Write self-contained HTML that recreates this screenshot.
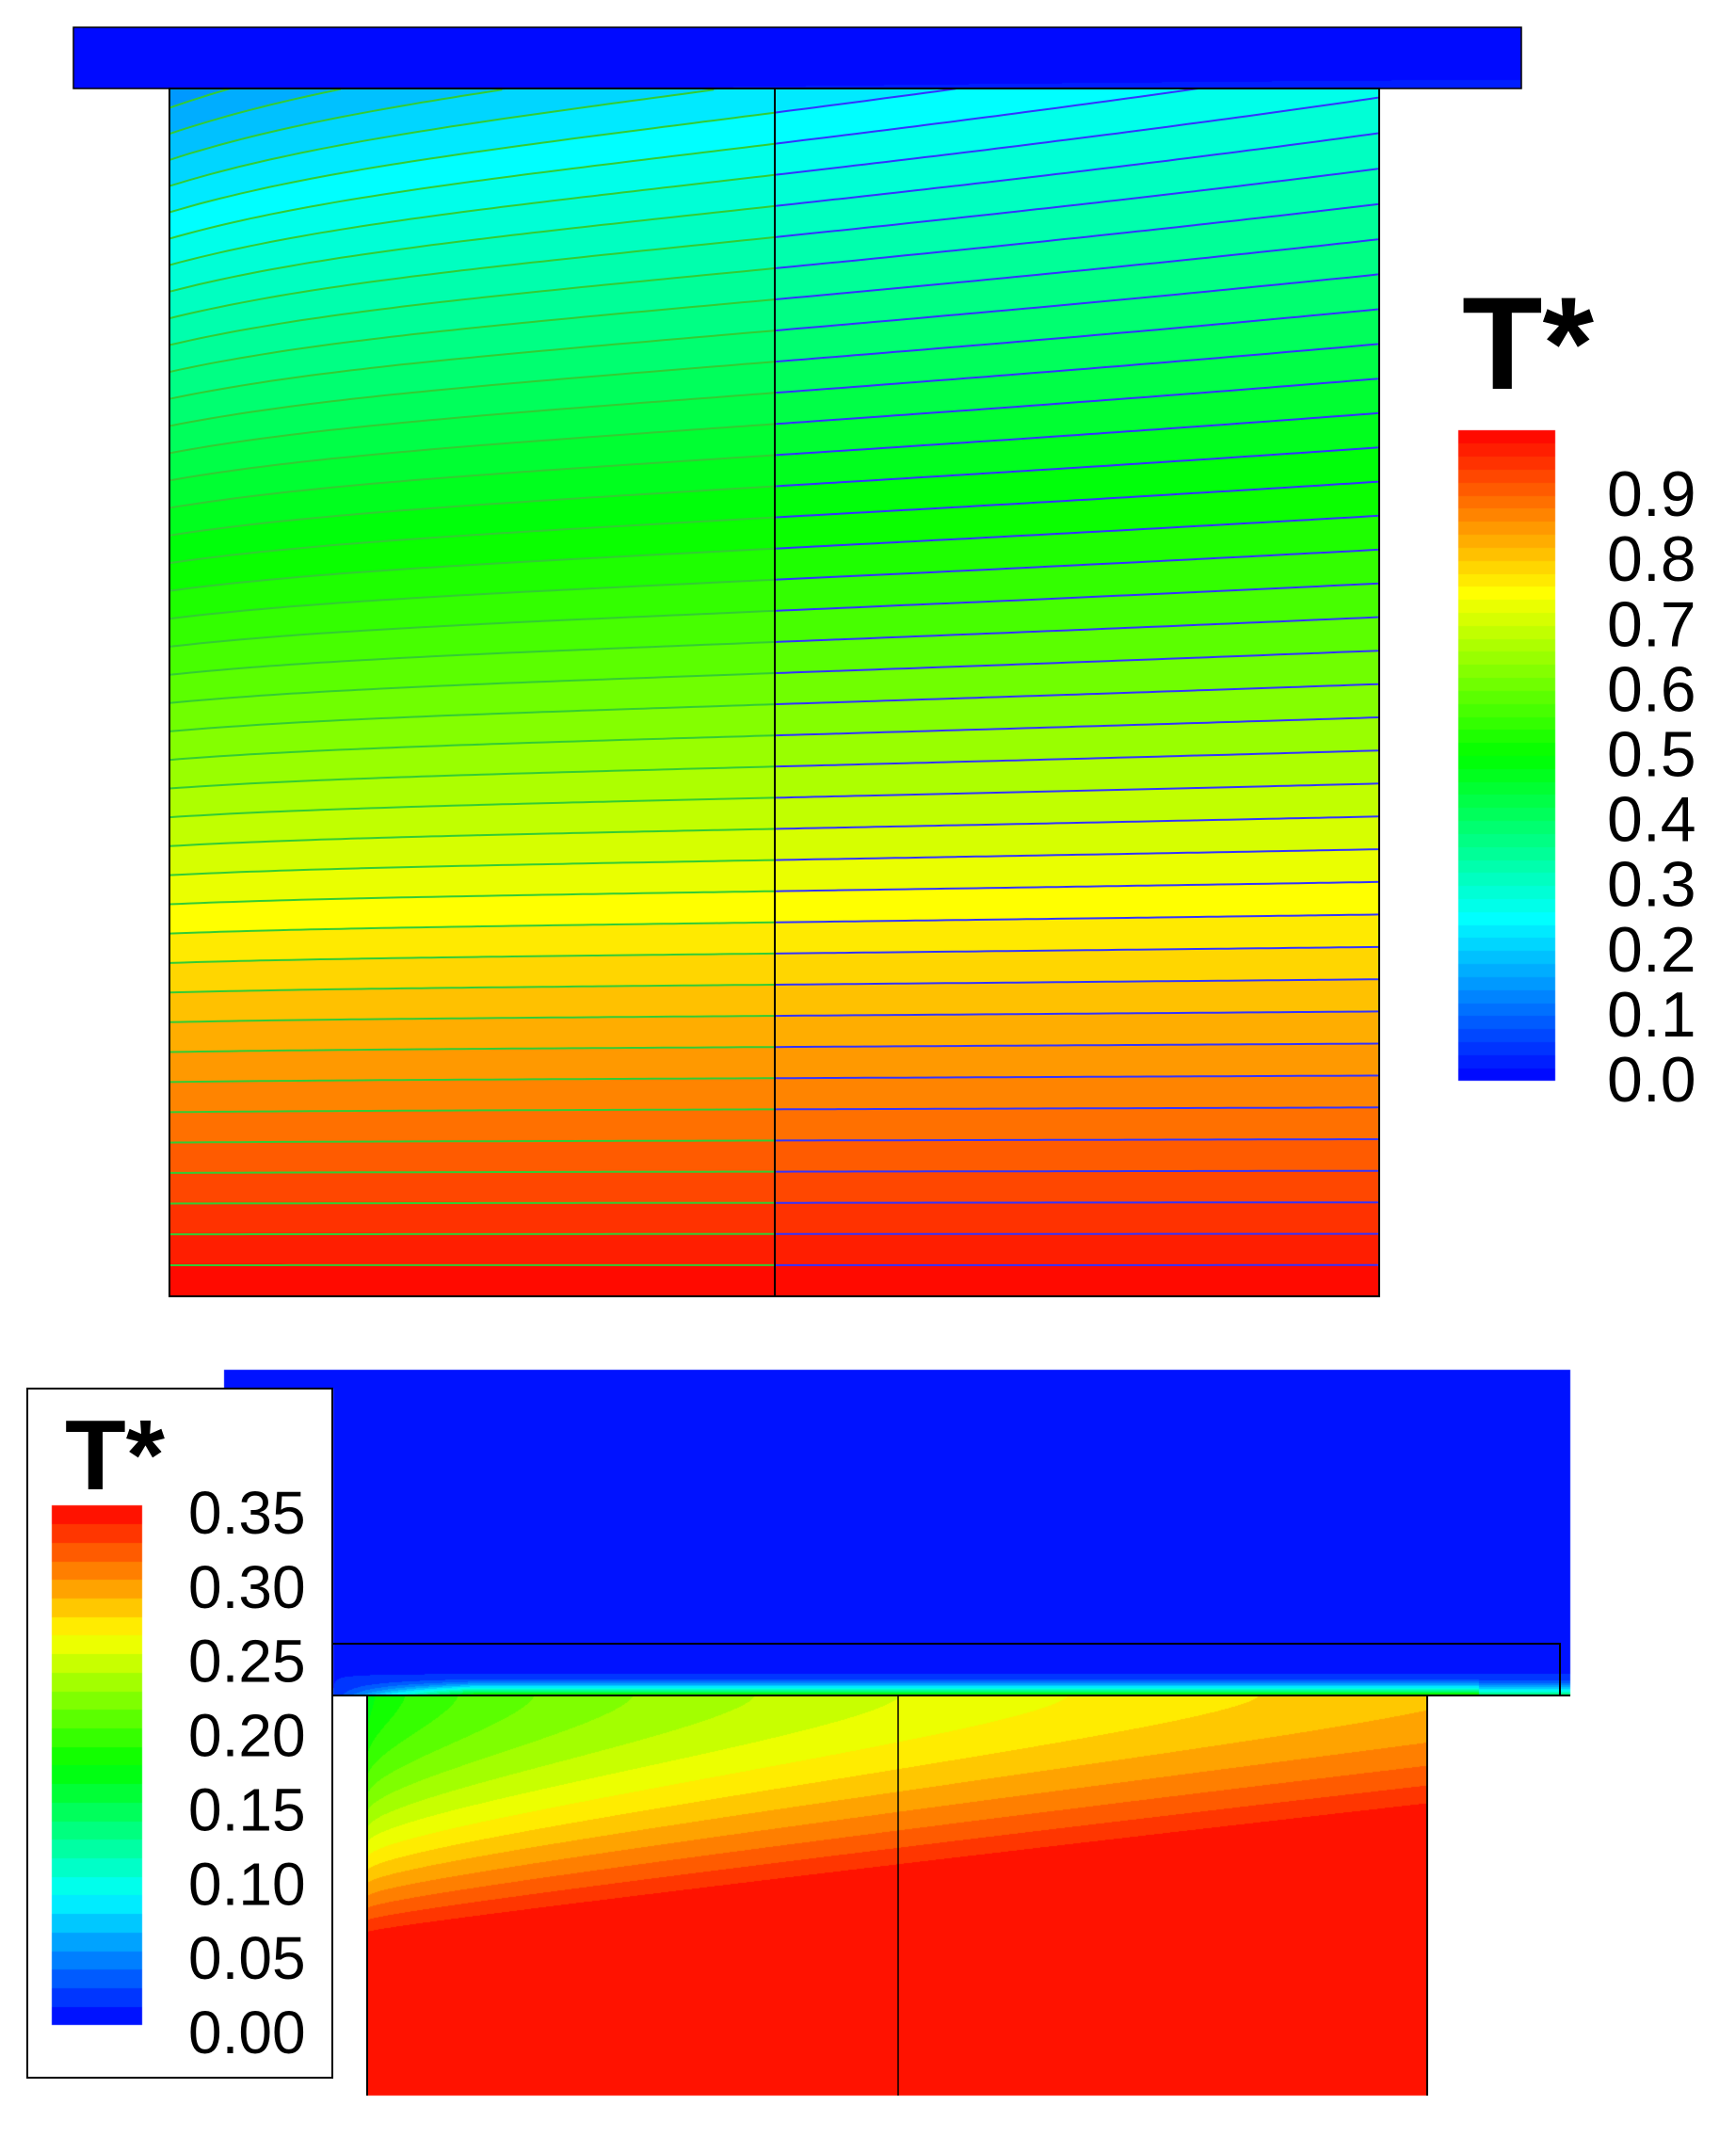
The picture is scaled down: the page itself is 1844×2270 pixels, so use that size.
<!DOCTYPE html>
<html><head><meta charset="utf-8"><style>
html,body{margin:0;padding:0;background:#fff;}
#wrap{position:relative;width:1844px;height:2270px;overflow:hidden;background:#fff;}
canvas,svg{position:absolute;left:0;top:0;}
</style></head><body>
<div id="wrap">
<canvas id="cv" width="1844" height="2270"></canvas>
<svg id="sv" width="1844" height="2270" font-family="Liberation Sans, Arial, sans-serif">
  <rect x="29" y="1475" width="324" height="732" fill="none" stroke="#000" stroke-width="2"/>
  <text x="1553" y="413" font-size="140" font-weight="bold">T*</text>
  <text x="69" y="1582" font-size="106" font-weight="bold">T*</text>
  <g id="topTicks"></g>
  <g id="botTicks"></g>
  <g id="contours"></g>
  <rect x="78" y="29" width="1538" height="65" fill="none" stroke="#000" stroke-width="1.5"/>
  <rect x="180" y="94" width="1285" height="1283" fill="none" stroke="#000" stroke-width="2"/>
  <line x1="823" y1="94" x2="823" y2="1377" stroke="#000" stroke-width="2"/>
  <rect x="353" y="1746" width="1304" height="55" fill="none" stroke="#000" stroke-width="2"/>
  <line x1="353" y1="1801" x2="1668" y2="1801" stroke="#000" stroke-width="2"/>
  <line x1="390" y1="1801" x2="390" y2="2226" stroke="#000" stroke-width="2"/>
  <line x1="1516" y1="1801" x2="1516" y2="2226" stroke="#000" stroke-width="2"/>
  <line x1="954" y1="1801" x2="954" y2="2226" stroke="#000" stroke-width="1.5"/>
</svg>
</div>
<script>
const topTickLabels = ["0.0","0.1","0.2","0.3","0.4","0.5","0.6","0.7","0.8","0.9"];
const topTickValues = [0,0.1,0.2,0.3,0.4,0.5,0.6,0.7,0.8,0.9];
const botTickLabels = ["0.00","0.05","0.10","0.15","0.20","0.25","0.30","0.35"];
const botTickValues = [0,0.05,0.10,0.15,0.20,0.25,0.30,0.35];
const contourLevels = [];
for (let i = 1; i < 50; i++) contourLevels.push(+(i*0.02).toFixed(2));

function cmap(t){
  t=Math.max(0,Math.min(1,t));
  let r,g,b;
  if(t<0.25){r=0;g=t/0.25*255;b=255;}
  else if(t<0.5){r=0;g=255;b=255*(1-(t-0.25)/0.25);}
  else if(t<0.75){r=255*(t-0.5)/0.25;g=255;b=0;}
  else {r=255;g=255*(1-(t-0.75)/0.25);b=0;}
  return [r|0,g|0,b|0];
}
const TX0=180,TX1=1465,TY0=94,TY1=1377;
function Ttop(xn,yn){
  const h=0.1*(xn-0.5)-0.03*Math.exp(-8*xn);
  return 0.225+0.775*yn+Math.pow(1-yn,2)*h;
}
const BX0=390,BX1=1516,BY0=1801,BY1=2226;
function Tbot(xn,yn){
  const top=0.165+0.12*Math.sqrt(xn);
  const d=0.64-0.3*xn;
  const f=Math.min(1,yn/d);
  return Math.min(0.35,top+(0.36-top)*Math.pow(f,1.5));
}
const cv=document.getElementById('cv');
const ctx=cv.getContext('2d');
const img=ctx.createImageData(1844,2270);
const D=img.data;
function put(x,y,c){const i=(y*1844+x)*4;D[i]=c[0];D[i+1]=c[1];D[i+2]=c[2];D[i+3]=255;}
function q(v,step){return (Math.floor(v/step)+0.5)*step;}
for(let i=0;i<D.length;i++)D[i]=255;
for(let y=29;y<94;y++)for(let x=78;x<1616;x++){
  const yn=(y-29)/65, xn=(x-78)/1538;
  let t=0.03*Math.pow(yn,4)*(0.3+xn);
  put(x,y,cmap(q(t,0.02)));
}
for(let y=TY0;y<TY1;y++)for(let x=TX0;x<TX1;x++){
  const t=Ttop((x-TX0)/(TX1-TX0),(y-TY0)/(TY1-TY0));
  put(x,y,cmap(q(t,0.02)));
}
for(let y=457;y<1148;y++)for(let x=1549;x<1652;x++){
  const t=(1148-y)/(1148-457);
  put(x,y,cmap(q(t,0.02)));
}
for(let y=1455;y<1801;y++)for(let x=238;x<1668;x++){
  if(x<=353 && y>=1475) continue; // covered by legend box (white)
  let t=0.012;
  if(y>1746 && x>=353){
    const f=Math.pow(Math.max(0,(y-1776)/25),2.2);
    const xf=Math.min(1,(x-353)/150);
    t=0.012+0.2*f*xf*(x>1570?0.7:1);
  }
  put(x,y,cmap(q(t,0.0125)/0.35));
}
for(let y=BY0;y<BY1;y++)for(let x=BX0;x<BX1;x++){
  const t=Tbot((x-BX0)/(BX1-BX0),(y-BY0)/(BY1-BY0));
  put(x,y,cmap(q(Math.min(t,0.3499),0.0125)/0.35));
}
for(let y=1599;y<2151;y++)for(let x=55;x<151;x++){
  const t=(2151-y)/(2151-1599)*0.35;
  put(x,y,cmap(q(Math.min(t,0.3499),0.0125)/0.35));
}
ctx.putImageData(img,0,0);

const NS='http://www.w3.org/2000/svg';
const tt=document.getElementById('topTicks');
topTickValues.forEach((v,i)=>{
  const t=document.createElementNS(NS,'text');
  
  
  t.setAttribute('x',1707);
  t.setAttribute('y',1148-v*(1148-457)+22);
  t.setAttribute('font-size','68');
  t.textContent=topTickLabels[i];
  tt.appendChild(t);
});
const bt=document.getElementById('botTicks');
botTickValues.forEach((v,i)=>{
  const t=document.createElementNS(NS,'text');
  
  
  t.setAttribute('x',200);
  t.setAttribute('y',2151-v/0.35*(2151-1599)+30);
  t.setAttribute('font-size','64');
  t.textContent=botTickLabels[i];
  bt.appendChild(t);
});
const cg=document.getElementById('contours');
contourLevels.forEach(L=>{
  [[0,0.5,'#33cc33'],[0.5,1,'#3333ff']].forEach(([a,b,col])=>{
    let pts=[];
    for(let k=0;k<=60;k++){
      const xn=a+(b-a)*k/60;
      let lo=0,hi=1;
      if(Ttop(xn,0)>L||Ttop(xn,1)<L){ if(pts.length>1) break; else {pts=[];continue;} }
      for(let it=0;it<30;it++){const m=(lo+hi)/2; if(Ttop(xn,m)<L) lo=m; else hi=m;}
      pts.push((TX0+xn*(TX1-TX0)).toFixed(1)+','+(TY0+lo*(TY1-TY0)).toFixed(1));
    }
    if(pts.length>1){
      const p=document.createElementNS(NS,'polyline');
      
      
      p.setAttribute('points',pts.join(' '));
      p.setAttribute('fill','none');
      p.setAttribute('stroke',col);
      p.setAttribute('stroke-width','2');
      cg.appendChild(p);
    }
  });
});
</script>
</body></html>
